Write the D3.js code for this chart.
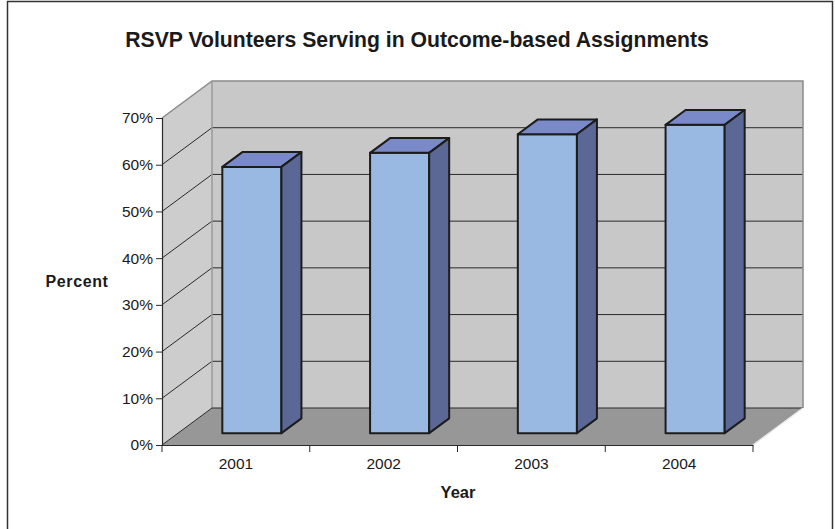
<!DOCTYPE html>
<html>
<head>
<meta charset="utf-8">
<script src="https://cdn.jsdelivr.net/npm/d3@7/dist/d3.min.js"></script>
<style>
  html, body { margin: 0; padding: 0; background: #fff; }
  svg { display: block; font-family: Arial, "Liberation Sans", sans-serif; }
</style>
</head>
<body>
<svg id="chart" width="835" height="529"></svg>
<script>
// Chart data
const years = ["2001", "2002", "2003", "2004"];
const percentServing = [0.57, 0.60, 0.64, 0.66];
const yTicks = [0, 0.1, 0.2, 0.3, 0.4, 0.5, 0.6, 0.7];
const chartTitle = "RSVP Volunteers Serving in Outcome-based Assignments";
const yTitle = "Percent";
const xTitle = "Year";

const svg = d3.select("#chart");

// Front plane of the 3D box and depth offset toward the back wall
const plotLeft = 162, plotRight = 753, plotBottom = 445, plotTop = 118;
const depth = { dx: 50, dy: -37 };
const barFront = 0.32, barBack = 0.72;

const x = d3.scaleBand().domain(years).range([plotLeft, plotRight])
  .paddingInner(0.6).paddingOuter(0.3);
const xCat = d3.scaleBand().domain(years).range([plotLeft, plotRight]).padding(0);
const y = d3.scaleLinear().domain([0, 0.7]).range([plotBottom, plotTop]);

const P = (px, py, f) => [px + depth.dx * f, py + depth.dy * f];
const poly = pts => "M" + pts.map(p => p.join(",")).join("L") + "Z";

// Outer frame
svg.append("rect").attr("x", 7.5).attr("y", 1.5).attr("width", 825).attr("height", 535)
  .attr("fill", "none").attr("stroke", "#333").attr("stroke-width", 1.5);

// Walls and floor
const y0 = y(0), yMax = y(0.7);
svg.append("path").attr("d", poly([[plotLeft, y0], [plotLeft, yMax], P(plotLeft, yMax, 1), P(plotLeft, y0, 1)]))
  .attr("fill", "#cdcdcd");
svg.append("path").attr("d", poly([P(plotLeft, yMax, 1), P(plotRight, yMax, 1), P(plotRight, y0, 1), P(plotLeft, y0, 1)]))
  .attr("fill", "#c8c8c8");
svg.append("path").attr("d", poly([[plotLeft, y0], [plotRight, y0], P(plotRight, y0, 1), P(plotLeft, y0, 1)]))
  .attr("fill", "#979797");

// Gridlines on the back wall and the side wall
const grid = svg.append("g");
yTicks.filter(v => v > 0 && v < 0.7).forEach(v => {
  const a = [plotLeft, y(v)], b = P(plotLeft, y(v), 1), c = P(plotRight, y(v), 1);
  grid.append("path").attr("d", "M" + a + "L" + b + "L" + c)
    .attr("fill", "none").attr("stroke", "#2a2a2a").attr("stroke-width", 1);
});
// Wall edges
grid.append("path").attr("d", "M" + [plotLeft, yMax] + "L" + P(plotLeft, yMax, 1) + "L" + P(plotRight, yMax, 1) + "L" + P(plotRight, y0, 1))
  .attr("fill", "none").attr("stroke", "#8a8a8a").attr("stroke-width", 1.5);
grid.append("path").attr("d", "M" + P(plotLeft, yMax, 1) + "L" + P(plotLeft, y0, 1))
  .attr("fill", "none").attr("stroke", "#9a9a9a").attr("stroke-width", 1.5);
grid.append("path").attr("d", "M" + [plotLeft, y0] + "L" + P(plotLeft, y0, 1) + "L" + P(plotRight, y0, 1))
  .attr("fill", "none").attr("stroke", "#2a2a2a").attr("stroke-width", 1);
grid.append("path").attr("d", "M" + [plotRight, y0] + "L" + P(plotRight, y0, 1))
  .attr("fill", "none").attr("stroke", "#e8e8e8").attr("stroke-width", 1.5);

// Bars
const data = years.map((yr, i) => ({ year: yr, value: percentServing[i] }));
const bars = svg.append("g").selectAll("g").data(data).join("g");
bars.each(function(d) {
  const g = d3.select(this);
  const x0 = x(d.year), x1 = x(d.year) + x.bandwidth();
  const yt = y(d.value);
  const face = (pts, fill) => g.append("path").attr("d", poly(pts)).attr("fill", fill)
    .attr("stroke", "#1c1c1c").attr("stroke-width", 2).attr("stroke-linejoin", "round");
  face([P(x0, yt, barFront), P(x1, yt, barFront), P(x1, y0, barFront), P(x0, y0, barFront)], "#99b9e2");
  face([P(x0, yt, barFront), P(x0, yt, barBack), P(x1, yt, barBack), P(x1, yt, barFront)], "#7a8ac8");
  face([P(x1, yt, barFront), P(x1, yt, barBack), P(x1, y0, barBack), P(x1, y0, barFront)], "#5b6895");
});

// Y axis
const yAxis = svg.append("g").attr("transform", `translate(${plotLeft},0)`)
  .call(d3.axisLeft(y).tickValues(yTicks).tickFormat(d3.format(".0%")).tickSize(6).tickPadding(3));
yAxis.select(".domain").attr("stroke", "#2a2a2a").attr("stroke-width", 1.2);
yAxis.selectAll(".tick line").attr("stroke", "#2a2a2a");
yAxis.selectAll("text").attr("font-size", 15.5).attr("fill", "#1a1a1a")
  .attr("font-family", "Arial, 'Liberation Sans', sans-serif");

// X axis: labels at category centres, ticks at category boundaries
const xAxis = svg.append("g").attr("transform", `translate(0,${y0})`)
  .call(d3.axisBottom(xCat).tickSize(0).tickPadding(13));
xAxis.select(".domain").attr("stroke", "#2a2a2a").attr("stroke-width", 1.2);
xAxis.selectAll("text").attr("font-size", 15.5).attr("fill", "#1a1a1a")
  .attr("font-family", "Arial, 'Liberation Sans', sans-serif");
const bounds = years.map(yr => xCat(yr)).concat([xCat.range()[1]]);
xAxis.selectAll("line.bound").data(bounds).join("line").attr("class", "bound")
  .attr("x1", d => d).attr("x2", d => d).attr("y1", 0).attr("y2", 7)
  .attr("stroke", "#2a2a2a");

// Titles
svg.append("text").attr("x", 417).attr("y", 47).attr("text-anchor", "middle")
  .attr("font-size", 21.2).attr("font-weight", "bold").attr("fill", "#1a1a1a").text(chartTitle);
svg.append("text").attr("x", 77).attr("y", 287).attr("text-anchor", "middle")
  .attr("font-size", 16).attr("font-weight", "bold").attr("letter-spacing", 0.6)
  .attr("fill", "#1a1a1a").text(yTitle);
svg.append("text").attr("x", 458).attr("y", 498).attr("text-anchor", "middle")
  .attr("font-size", 16.5).attr("font-weight", "bold").attr("fill", "#1a1a1a").text(xTitle);
</script>
</body>
</html>
